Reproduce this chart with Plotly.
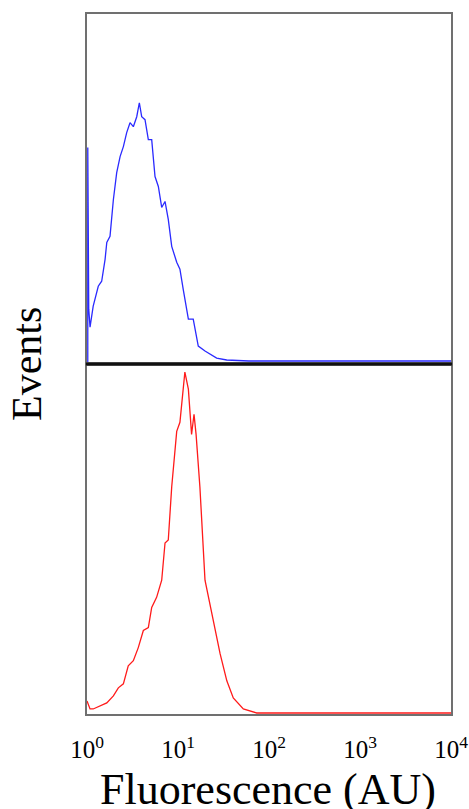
import plotly.graph_objects as go
from plotly.subplots import make_subplots

# Top histogram (blue) : fluorescence (AU) vs events
blue_x = [1.0, 1.02, 1.02, 1.03, 1.045, 1.08, 1.17, 1.33, 1.45, 1.58, 1.65, 1.79, 1.95, 2.12, 2.31,
          2.51, 2.73, 2.97, 3.23, 3.52, 3.76, 3.99, 4.34, 4.72, 5.14, 5.59, 6.08, 6.62, 7.20,
          7.82, 8.53, 9.68, 10.5, 11.4, 13.0, 14.7, 16.7, 19.8, 26.6, 34.3, 60, 200, 1000, 5000, 10000]
blue_y = [0, 0, 217, 75, 55, 37, 58, 78, 83, 105, 122, 128, 165, 192, 208,
          218, 232, 242, 238, 248, 262, 248, 245, 225, 225, 188, 178, 157, 163,
          145, 118, 102, 95, 75, 45, 45, 18, 13, 6, 4, 3, 3, 3, 3, 3]

# Bottom histogram (red)
red_x = [1.0, 1.08, 1.17, 1.39, 1.65, 1.95, 2.21, 2.51, 2.84, 3.23, 3.66, 4.16, 4.72, 5.14, 5.82,
         6.62, 7.20, 7.82, 8.53, 9.68, 10.5, 11.9, 13.0, 14.1, 15.0, 15.8, 17.4, 19.8, 22.4,
         25.5, 29.0, 34.4, 40.5, 52.2, 73.2, 200, 1000, 10000]
red_y = [13, 5, 5, 8, 11, 18, 26, 30, 48, 53, 66, 83, 86, 106, 116,
         133, 170, 173, 226, 281, 290, 340, 323, 278, 298, 278, 226, 133, 110,
         86, 60, 33, 16, 5, 1, 1, 1, 1]

tick_vals = [1, 10, 100, 1000, 10000]
tick_text = ["10<sup>0</sup>", "10<sup>1</sup>", "10<sup>2</sup>", "10<sup>3</sup>", "10<sup>4</sup>"]

SERIF = "Liberation Serif, Times New Roman, serif"
FRAME = "#707070"

fig = make_subplots(rows=2, cols=1, shared_xaxes=True, vertical_spacing=0)
fig.add_trace(go.Scatter(x=blue_x, y=blue_y, mode="lines",
                         line=dict(color="#2a2aff", width=1.3), showlegend=False), row=1, col=1)
fig.add_trace(go.Scatter(x=red_x, y=red_y, mode="lines",
                         line=dict(color="#ff1a1a", width=1.3), showlegend=False), row=2, col=1)

axis_common = dict(showgrid=False, zeroline=False, showline=True, mirror=True,
                   linecolor=FRAME, linewidth=2, automargin=False)
fig.update_xaxes(type="log", range=[0, 4], ticks="", **axis_common)
fig.update_xaxes(showticklabels=False, row=1, col=1)
fig.update_xaxes(tickvals=tick_vals, ticktext=tick_text, ticklabelstandoff=12,
                 tickfont=dict(family=SERIF, size=25, color="black"), row=2, col=1)
fig.update_yaxes(showticklabels=False, ticks="", **axis_common)
fig.update_yaxes(range=[0, 351], row=1, col=1)
fig.update_yaxes(range=[0, 348], row=2, col=1)

# divider between the two panels
fig.add_shape(type="line", xref="paper", yref="paper", x0=-0.003, x1=1.003, y0=0.5, y1=0.5,
              line=dict(color="#111111", width=3))

fig.add_annotation(text="Fluorescence (AU)", xref="paper", yref="paper", x=0.497, y=-0.108,
                   xanchor="center", yanchor="middle", showarrow=False,
                   font=dict(family=SERIF, size=44, color="black"))
fig.add_annotation(text="Events", xref="paper", yref="paper", x=-0.165, y=0.5, textangle=-90,
                   xanchor="center", yanchor="middle", showarrow=False,
                   font=dict(family=SERIF, size=42, color="black"))

fig.update_layout(width=469, height=809, margin=dict(l=87, r=18, t=14, b=95, autoexpand=False),
                  paper_bgcolor="white", plot_bgcolor="white")
fig.write_html("out.html")
